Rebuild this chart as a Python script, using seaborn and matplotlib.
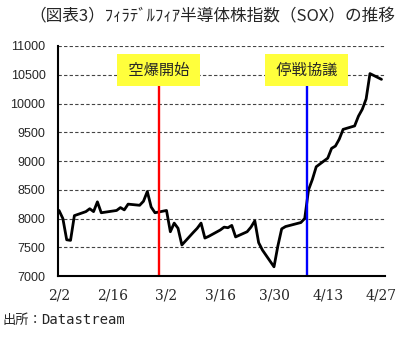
import pandas as pd
import matplotlib
matplotlib.use('Agg')
import matplotlib.pyplot as plt
import seaborn as sns

# SOX index, daily closes
dates = ['2026-02-02', '2026-02-03', '2026-02-04', '2026-02-05', '2026-02-06',
         '2026-02-09', '2026-02-10', '2026-02-11', '2026-02-12', '2026-02-13',
         '2026-02-17', '2026-02-18', '2026-02-19', '2026-02-20',
         '2026-02-23', '2026-02-24', '2026-02-25', '2026-02-26', '2026-02-27',
         '2026-03-02', '2026-03-03', '2026-03-04', '2026-03-05', '2026-03-06',
         '2026-03-09', '2026-03-10', '2026-03-11', '2026-03-12', '2026-03-13',
         '2026-03-16', '2026-03-17', '2026-03-18', '2026-03-19', '2026-03-20',
         '2026-03-23', '2026-03-24', '2026-03-25', '2026-03-26', '2026-03-27',
         '2026-03-30', '2026-03-31', '2026-04-01', '2026-04-02',
         '2026-04-06', '2026-04-07', '2026-04-08', '2026-04-09', '2026-04-10',
         '2026-04-13', '2026-04-14', '2026-04-15', '2026-04-16', '2026-04-17',
         '2026-04-20', '2026-04-21', '2026-04-22', '2026-04-23', '2026-04-24',
         '2026-04-27']
values = [8140, 8000, 7630, 7620, 8050,
          8120, 8170, 8120, 8290, 8100,
          8140, 8190, 8150, 8250,
          8230, 8300, 8470, 8200, 8100,
          8140, 7770, 7920, 7830, 7540,
          7760, 7830, 7920, 7660, 7690,
          7800, 7850, 7840, 7880, 7680,
          7770, 7850, 7960, 7580, 7450,
          7160, 7520, 7820, 7860,
          7930, 8000, 8500, 8680, 8900,
          9050, 9220, 9260, 9380, 9550,
          9610, 9780, 9900, 10080, 10520,
          10420]

tick_dates = ['2026-02-02', '2026-02-16', '2026-03-02', '2026-03-16',
              '2026-03-30', '2026-04-13', '2026-04-27']
tick_labels = ['2/2', '2/16', '3/2', '3/16', '3/30', '4/13', '4/27']
y_ticks = [7000, 7500, 8000, 8500, 9000, 9500, 10000, 10500, 11000]

events = ['空爆開始', '停戦協議']
event_dates = ['2026-02-28', '2026-04-07 12:00']
event_colors = ['#ff0000', '#0000ff']

title = '（図表3）ﾌｨﾗﾃﾞﾙﾌｨｱ半導体株指数（SOX）の推移'

df = pd.DataFrame({'date': pd.to_datetime(dates), 'value': values})

sns.set_style('white')
plt.rcParams['font.family'] = ['Noto Sans CJK JP', 'DejaVu Sans']

fig = plt.figure(figsize=(4.06, 3.43), dpi=100)
ax = fig.add_axes([0.143, 0.1953, 0.8053, 0.6706])

sns.lineplot(data=df, x='date', y='value', color='black', lw=2, ax=ax, zorder=2)

# event markers
for name, d, c in zip(events, event_dates, event_colors):
    d = pd.Timestamp(d)
    ax.vlines(d, 7000, 10580, color=c, lw=1.7, zorder=3)
    ax.text(d, 10580, ' ' + name + ' ', ha='center', va='center', fontsize=11,
            zorder=4, bbox=dict(boxstyle='square,pad=0.5', fc='#ffff3c', ec='none'))

ax.set_xlim(pd.Timestamp('2026-02-02') - pd.Timedelta(hours=6),
            pd.Timestamp('2026-04-27') + pd.Timedelta(hours=22))
ax.set_ylim(7000, 11000)
ax.set_xticks(pd.to_datetime(tick_dates))
ax.set_xticklabels(tick_labels, family='DejaVu Serif', fontsize=10)
ax.set_yticks(y_ticks)
ax.set_yticklabels([str(v) for v in y_ticks], family='Liberation Sans', fontsize=9)
ax.tick_params(axis='x', direction='in', length=4, width=1.2, color='black', pad=9)
ax.tick_params(axis='y', length=0, pad=9)
ax.set_xlabel('')
ax.set_ylabel('')

ax.yaxis.grid(True, linestyle=(0, (3, 2)), color='#444444', lw=0.8)
ax.xaxis.grid(False)
for s in ['top', 'right']:
    ax.spines[s].set_visible(False)
for s in ['left', 'bottom']:
    ax.spines[s].set_color('black')
    ax.spines[s].set_linewidth(1.5)
    ax.spines[s].set_zorder(5)

fig.text(0.522, 0.952, title, ha='center', va='center', fontsize=12)
fig.text(2 / 406, 0.067, '出所：', ha='left', va='center', fontsize=9.5)
fig.text(41 / 406, 0.067, 'Datastream', ha='left', va='center',
         family='DejaVu Sans Mono', fontsize=10)

fig.savefig('out.png', dpi=100)
